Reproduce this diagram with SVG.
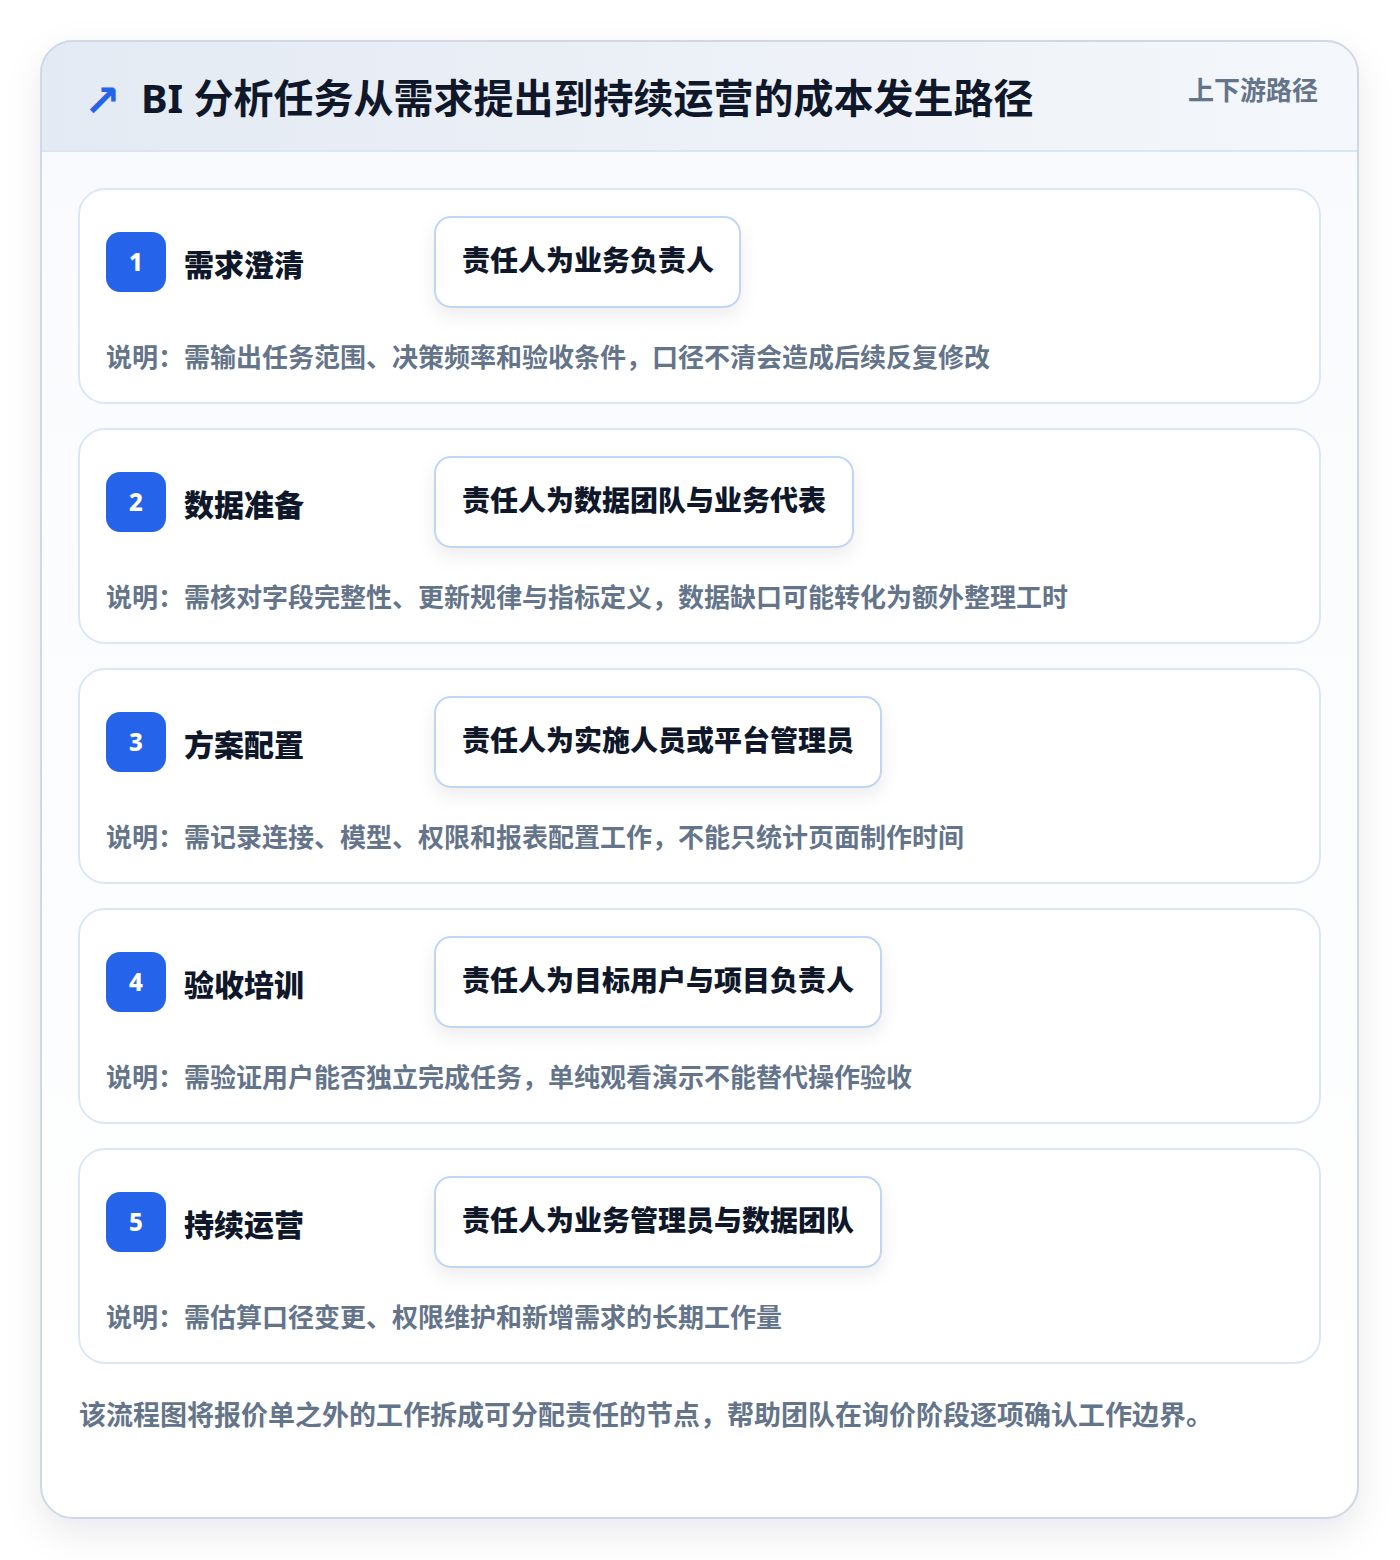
<svg xmlns="http://www.w3.org/2000/svg" width="1400" height="1560" viewBox="0 0 1400 1560">
<defs>
<linearGradient id="hdr" x1="0" y1="0" x2="1" y2="0">
<stop offset="0" stop-color="#e4eaf3"/>
<stop offset="1" stop-color="#f4f7fb"/>
</linearGradient>
<linearGradient id="body" x1="0" y1="0" x2="0" y2="1">
<stop offset="0" stop-color="#f8fafd"/>
<stop offset="1" stop-color="#ffffff"/>
</linearGradient>
<clipPath id="outerClip"><rect x="41" y="41" width="1317" height="1477" rx="32"/></clipPath>
<filter id="outerShadow" x="-10%" y="-10%" width="120%" height="120%">
<feDropShadow dx="0" dy="14" stdDeviation="18" flood-color="#0f172a" flood-opacity="0.09"/>
</filter>
<filter id="boxShadow" x="-20%" y="-30%" width="140%" height="170%">
<feDropShadow dx="0" dy="8" stdDeviation="9" flood-color="#0f172a" flood-opacity="0.07"/>
</filter>
</defs>
<style>
text{font-family:"Noto Sans","Noto Sans CJK SC",sans-serif;font-weight:700}
.card{fill:#ffffff;stroke:#dbe7f6;stroke-width:2}
.badge{fill:#2563eb}
.num{fill:#ffffff;font-size:24px;font-weight:800;text-anchor:middle}
.ttl{fill:#0f172a;font-size:30px;font-weight:800}
.own{fill:#ffffff;stroke:#bfd7f5;stroke-width:2}
.ownt{fill:#0f172a;font-size:28px;font-weight:800}
.desc{fill:#64748b;font-size:26px}
</style>
<rect width="1400" height="1560" fill="#ffffff"/>
<g id="frame">
<rect x="41" y="41" width="1317" height="1477" rx="32" fill="url(#body)" filter="url(#outerShadow)"/>
<g clip-path="url(#outerClip)">
<rect x="41" y="41" width="1317" height="110" fill="url(#hdr)"/>
<line x1="41" y1="151" x2="1358" y2="151" stroke="#d9e5f3" stroke-width="2"/>
</g>
<rect x="41" y="41" width="1317" height="1477" rx="32" fill="none" stroke="#cfd8e4" stroke-width="2"/>
</g>
<g id="header">
<text x="84" y="116" font-size="44" font-weight="700" fill="#2563eb" style="font-family:'DejaVu Sans',sans-serif">↗</text>
<text x="141" y="113" font-size="40" font-weight="900" fill="#0f172a">BI 分析任务从需求提出到持续运营的成本发生路径</text>
<text x="1318" y="100" font-size="26" fill="#64748b" text-anchor="end">上下游路径</text>
</g>
<g id="connectors"></g>
<g id="step1">
<rect class="card" x="79" y="189" width="1241" height="214" rx="26"/>
<rect class="badge" x="106" y="232" width="60" height="60" rx="14"/>
<text class="num" x="136" y="271">1</text>
<text class="ttl" x="184" y="276">需求澄清</text>
<rect class="own" x="435" y="217" width="305" height="90" rx="16" filter="url(#boxShadow)"/>
<text class="ownt" x="462" y="271">责任人为业务负责人</text>
<text class="desc" x="106" y="367">说明：需输出任务范围、决策频率和验收条件，口径不清会造成后续反复修改</text>
</g>
<g id="step2">
<rect class="card" x="79" y="429" width="1241" height="214" rx="26"/>
<rect class="badge" x="106" y="472" width="60" height="60" rx="14"/>
<text class="num" x="136" y="511">2</text>
<text class="ttl" x="184" y="516">数据准备</text>
<rect class="own" x="435" y="457" width="418" height="90" rx="16" filter="url(#boxShadow)"/>
<text class="ownt" x="462" y="511">责任人为数据团队与业务代表</text>
<text class="desc" x="106" y="607">说明：需核对字段完整性、更新规律与指标定义，数据缺口可能转化为额外整理工时</text>
</g>
<g id="step3">
<rect class="card" x="79" y="669" width="1241" height="214" rx="26"/>
<rect class="badge" x="106" y="712" width="60" height="60" rx="14"/>
<text class="num" x="136" y="751">3</text>
<text class="ttl" x="184" y="756">方案配置</text>
<rect class="own" x="435" y="697" width="446" height="90" rx="16" filter="url(#boxShadow)"/>
<text class="ownt" x="462" y="751">责任人为实施人员或平台管理员</text>
<text class="desc" x="106" y="847">说明：需记录连接、模型、权限和报表配置工作，不能只统计页面制作时间</text>
</g>
<g id="step4">
<rect class="card" x="79" y="909" width="1241" height="214" rx="26"/>
<rect class="badge" x="106" y="952" width="60" height="60" rx="14"/>
<text class="num" x="136" y="991">4</text>
<text class="ttl" x="184" y="996">验收培训</text>
<rect class="own" x="435" y="937" width="446" height="90" rx="16" filter="url(#boxShadow)"/>
<text class="ownt" x="462" y="991">责任人为目标用户与项目负责人</text>
<text class="desc" x="106" y="1087">说明：需验证用户能否独立完成任务，单纯观看演示不能替代操作验收</text>
</g>
<g id="step5">
<rect class="card" x="79" y="1149" width="1241" height="214" rx="26"/>
<rect class="badge" x="106" y="1192" width="60" height="60" rx="14"/>
<text class="num" x="136" y="1231">5</text>
<text class="ttl" x="184" y="1236">持续运营</text>
<rect class="own" x="435" y="1177" width="446" height="90" rx="16" filter="url(#boxShadow)"/>
<text class="ownt" x="462" y="1231">责任人为业务管理员与数据团队</text>
<text class="desc" x="106" y="1327">说明：需估算口径变更、权限维护和新增需求的长期工作量</text>
</g>
<g id="footer">
<text x="79" y="1425" font-size="27" fill="#64748b">该流程图将报价单之外的工作拆成可分配责任的节点，帮助团队在询价阶段逐项确认工作边界。</text>
</g>
</svg>
